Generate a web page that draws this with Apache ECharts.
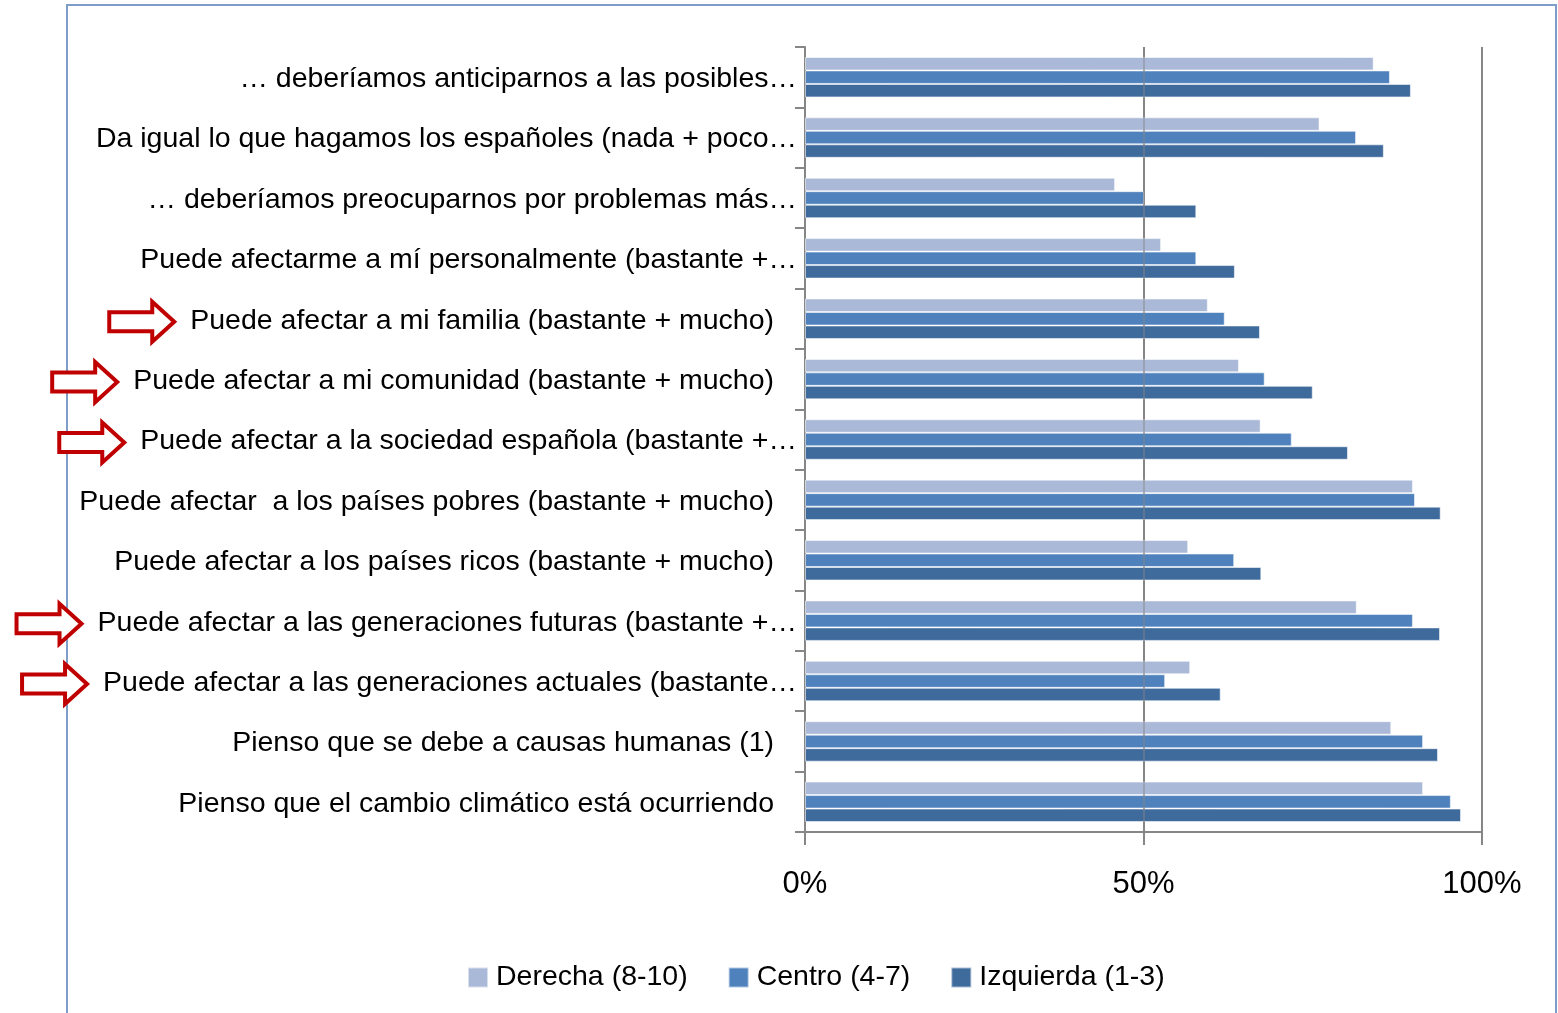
<!DOCTYPE html>
<html>
<head>
<meta charset="utf-8">
<script src="https://cdn.jsdelivr.net/npm/echarts@6/dist/echarts.min.js"></script>
<style>
  html, body { margin: 0; padding: 0; background: #fff; }
  #chart { width: 1558px; height: 1013px; }
</style>
</head>
<body>
<div id="chart"></div>
<script>
// categories, top to bottom
var categories = [
  '… deberíamos anticiparnos a las posibles…',
  'Da igual lo que hagamos los españoles (nada + poco…',
  '… deberíamos preocuparnos por problemas más…',
  'Puede afectarme a mí personalmente (bastante +…',
  'Puede afectar a mi familia (bastante + mucho)',
  'Puede afectar a mi comunidad (bastante + mucho)',
  'Puede afectar a la sociedad española (bastante +…',
  'Puede afectar  a los países pobres (bastante + mucho)',
  'Puede afectar a los países ricos (bastante + mucho)',
  'Puede afectar a las generaciones futuras (bastante +…',
  'Puede afectar a las generaciones actuales (bastante…',
  'Pienso que se debe a causas humanas (1)',
  'Pienso que el cambio climático está ocurriendo'
];
var derecha   = [84.0, 76.0, 45.8, 52.6, 59.5, 64.1, 67.3, 89.8, 56.6, 81.5, 56.9, 86.6, 91.3];
var centro    = [86.4, 81.4, 50.1, 57.8, 62.0, 67.9, 71.9, 90.1, 63.4, 89.8, 53.2, 91.3, 95.4];
var izquierda = [89.5, 85.5, 57.8, 63.5, 67.2, 75.0, 80.2, 93.9, 67.4, 93.8, 61.4, 93.5, 96.9];
var xTicks = [0, 50, 100];
var seriesNames = ['Derecha (8-10)', 'Centro (4-7)', 'Izquierda (1-3)'];
// categories marked with a red arrow
var arrowed = [
  'Puede afectar a mi familia (bastante + mucho)',
  'Puede afectar a mi comunidad (bastante + mucho)',
  'Puede afectar a la sociedad española (bastante +…',
  'Puede afectar a las generaciones futuras (bastante +…',
  'Puede afectar a las generaciones actuales (bastante…'
];

var FONT = '"Liberation Sans", Arial, sans-serif';
var LABEL_SIZE = 28.5;
var LABEL_MARGIN = 8;
var FULL_PAD = 23;

var myChart = echarts.init(document.getElementById('chart'));

function barSeries(name, data, color) {
  return {
    name: name,
    type: 'bar',
    data: data,
    barGap: '0%',
    barCategoryGap: '33%',
    itemStyle: { color: color, borderColor: 'rgba(255,255,255,0.55)', borderWidth: 1 }
  };
}

var series = [
  barSeries(seriesNames[0], derecha, '#AAB9D7'),
  barSeries(seriesNames[1], centro, '#4F81BD'),
  barSeries(seriesNames[2], izquierda, '#3F6A9C')
];
// gridline at 50% shows faintly over the bars
series[2].markLine = {
  silent: true,
  symbol: 'none',
  label: { show: false },
  lineStyle: { color: '#868686', width: 2, type: 'solid', opacity: 0.45 },
  data: [{ xAxis: 50 }]
};

var option = {
  backgroundColor: '#FFFFFF',
  animation: false,
  textStyle: { fontFamily: FONT },
  grid: { left: 805, right: 76, top: 47, bottom: 181 },
  legend: {
    data: seriesNames,
    bottom: 16,
    left: 462,
    itemWidth: 20,
    itemHeight: 20,
    itemGap: 40,
    icon: 'rect',
    textStyle: { fontSize: 28.5, color: '#000', fontFamily: FONT, padding: [0, 0, 0, 3] }
  },
  xAxis: {
    type: 'value',
    min: 0,
    max: 100,
    interval: 50,
    axisLine: { show: true, lineStyle: { color: '#868686', width: 2 } },
    axisTick: { show: true, length: 13, lineStyle: { color: '#868686', width: 2 } },
    splitLine: { show: true, lineStyle: { color: '#868686', width: 2 } },
    axisLabel: {
      fontSize: 31,
      color: '#000',
      margin: 37,
      fontFamily: FONT,
      formatter: function (v) { return xTicks.indexOf(v) >= 0 ? v + '%' : ''; }
    }
  },
  yAxis: {
    type: 'category',
    inverse: true,
    data: categories,
    axisLine: { show: true, lineStyle: { color: '#868686', width: 2 } },
    axisTick: { show: true, length: 10, lineStyle: { color: '#868686', width: 2 } },
    axisLabel: {
      margin: LABEL_MARGIN,
      interval: 0,
      formatter: function (v) {
        var truncated = v.charAt(v.length - 1) === '…';
        return truncated ? '{t|' + v + '}' : '{f|' + v + '}';
      },
      rich: {
        t: { fontSize: LABEL_SIZE, color: '#000', fontFamily: FONT, padding: [4, 0, 0, 0] },
        f: { fontSize: LABEL_SIZE, color: '#000', fontFamily: FONT, padding: [4, FULL_PAD, 0, 0] }
      }
    }
  },
  series: series
};

myChart.setOption(option);

// outlined red arrows beside highlighted categories + outer frame
function drawExtras() {
  var ctx = document.createElement('canvas').getContext('2d');
  ctx.font = LABEL_SIZE + 'px ' + FONT;
  var axisX = myChart.convertToPixel({ xAxisIndex: 0 }, 0);
  var elements = [{
    type: 'rect',
    shape: { x: 67, y: 5, width: 1489, height: 1030 },
    style: { fill: 'none', stroke: '#7F9DC9', lineWidth: 2 },
    silent: true
  }];
  arrowed.forEach(function (name) {
    var cy = myChart.convertToPixel({ yAxisIndex: 0 }, name) + 3;
    var truncated = name.charAt(name.length - 1) === '…';
    var w = ctx.measureText(name).width + (truncated ? 0 : FULL_PAD);
    var tip = axisX - LABEL_MARGIN - w - 16;
    var len = 65, head = 22, sh = 9.5, hh = 20;
    var left = tip - len;
    elements.push({
      type: 'polygon',
      shape: {
        points: [
          [left, cy - sh], [tip - head, cy - sh], [tip - head, cy - hh],
          [tip, cy], [tip - head, cy + hh], [tip - head, cy + sh], [left, cy + sh]
        ]
      },
      style: { fill: '#FFFFFF', stroke: '#C00000', lineWidth: 4, lineJoin: 'miter' },
      silent: true
    });
  });
  myChart.setOption({ graphic: elements });
}
drawExtras();
</script>
</body>
</html>
